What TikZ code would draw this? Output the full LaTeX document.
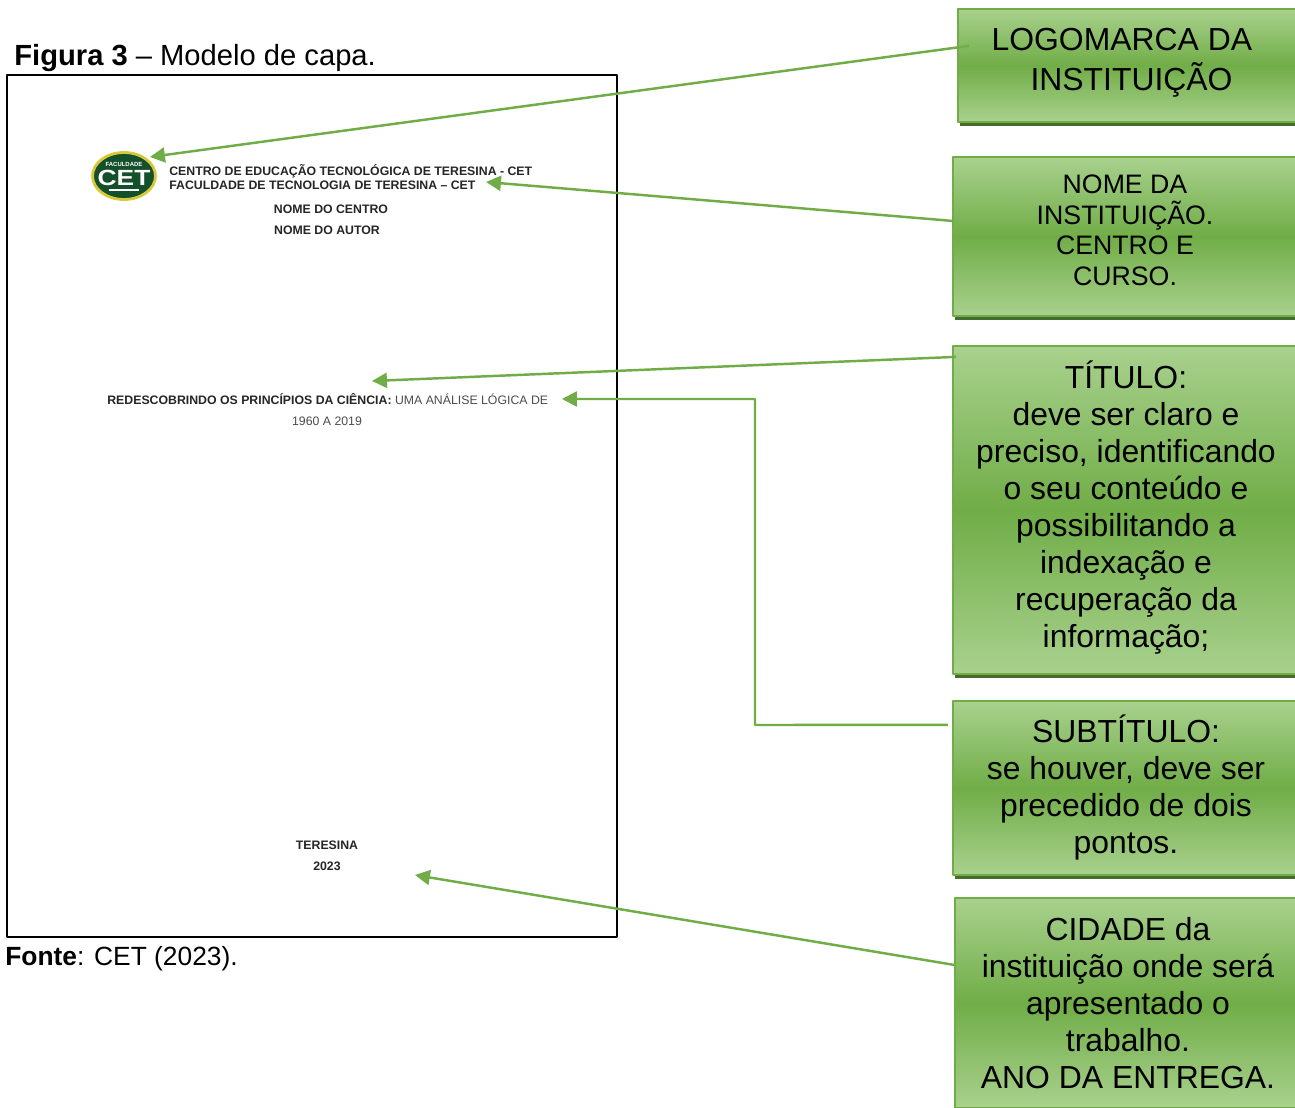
\documentclass[tikz,border=0pt]{standalone}
\usepackage{fontspec}
\setmainfont{Liberation Sans}
\usetikzlibrary{arrows.meta,shadows,shapes.geometric}
\definecolor{boxlight}{HTML}{A9D18E}
\definecolor{boxmid}{HTML}{70AD47}
\definecolor{boxdark}{HTML}{466D2D}
\definecolor{logogreen}{HTML}{14502A}
\definecolor{logorim}{HTML}{D8C83C}
\newcommand{\lift}[1]{\rule[-#1]{0pt}{#1}}
\tikzset{
	capabox/.style={draw=boxmid, line width=1.3pt, top color=boxlight, bottom color=boxlight, middle color=boxmid,
		align=center, text=black, inner sep=0pt, anchor=center,
		drop shadow={shadow xshift=1.2pt, shadow yshift=-2.2pt, fill=boxdark, opacity=1}},
	bigtext/.style={font=\fontsize{18.15}{21}\selectfont},
	midtext/.style={font=\fontsize{15.2}{17.4}\selectfont},
	pagetext/.style={font=\bfseries\fontsize{7}{8.4}\selectfont, text=black!85, inner sep=0pt},
	thintext/.style={font=\fontsize{7}{8.4}\selectfont, text=black!70, inner sep=0pt},
	captext/.style={inner sep=0pt, anchor=west},
	pointer/.style={->, draw=boxmid, line width=1.4pt}
}
\begin{document}
\begin{tikzpicture}[x=0.02cm, y=-0.02cm, >={Triangle[length=8.5pt,width=8.5pt]}, line join=round]
	\clip (0,0) rectangle (1295,1108);
	\fill[white] (0,0) rectangle (1295,1108);
	% the page
	\node[draw=black, line width=0.9pt, inner sep=0pt, minimum width=12.2cm, minimum height=17.24cm] (page) at (312,506) {};
	\node[captext, font=\fontsize{16.6}{18}\selectfont] (caption) at (14,58) {\textbf{Figura 3} – Modelo de capa.};
	\node[captext, font=\fontsize{15}{18}\selectfont] (source) at (5,959) {\textbf{Fonte}: CET (2023).};
	% logo
	\node[ellipse, draw=logorim, line width=1.6pt, fill=logogreen, minimum width=1.26cm, minimum height=0.94cm, inner sep=0pt] (logo) at (124,176) {};
	\node[font=\bfseries\fontsize{12.5}{12.5}\selectfont, text=white, inner sep=0pt, xscale=1.2] (logocet) at (124,178) {CET};
	\node[font=\bfseries\fontsize{3.4}{4}\selectfont, text=white, inner sep=0pt] (logotop) at (124,164) {FACULDADE};
	\draw[white, line width=0.6pt] ([shift={(-15,14)}]logo.center) -- ([shift={(15,14)}]logo.center);
	% text on the page
	\node[pagetext, anchor=west] (centro) at (169,171) {CENTRO DE EDUCAÇÃO TECNOLÓGICA DE TERESINA - CET};
	\node[pagetext, anchor=west] (faculdade) at (169,185.5) {FACULDADE DE TECNOLOGIA DE TERESINA – CET};
	\node[pagetext] (nomecentro) at (331,209) {NOME DO CENTRO};
	\node[pagetext] (nomeautor) at (327,230) {NOME DO AUTOR};
	\node[pagetext, anchor=west] (titulo) at (107,399) {REDESCOBRINDO OS PRINCÍPIOS DA CIÊNCIA: \textnormal{\color{black!70}UMA ANÁLISE LÓGICA DE}};
	\node[thintext] (anos) at (327,421) {1960 A 2019};
	\node[pagetext] (cidade) at (327,845) {TERESINA};
	\node[pagetext] (ano) at (327,866) {2023};
	% boxes on the right
	\node[capabox, bigtext, minimum width=6.94cm, minimum height=2.26cm] (logobox) at (1131.5,65.5)
		{LOGOMARCA DA\hspace*{11pt}\\[1.8pt]INSTITUIÇÃO\lift{7.2pt}};
	\node[capabox, midtext, minimum width=6.88cm, minimum height=3.18cm] (nomebox) at (1125,236.5)
		{NOME DA\\INSTITUIÇÃO.\\CENTRO E\\CURSO.\lift{7pt}};
	\node[capabox, bigtext, minimum width=6.92cm, minimum height=6.56cm] (titulobox) at (1126,510)
		{TÍTULO:\\deve ser claro e\\preciso, identificando\\o seu conteúdo e\\possibilitando a\\indexação e\\recuperação da\\informação;\lift{6.6pt}};
	\node[capabox, bigtext, minimum width=6.92cm, minimum height=3.48cm] (subbox) at (1126,788)
		{SUBTÍTULO:\\se houver, deve ser\\precedido de dois\\pontos.\lift{4.4pt}};
	\node[capabox, bigtext, minimum width=6.92cm, minimum height=4.2cm] (cidadebox) at (1128,1003)
		{CIDADE da\\instituição onde será\\apresentado o\\trabalho.\\ANO DA ENTREGA.};
	% ends of the pointers
	\path
	(150,157) coordinate (logotip)
	(486,182) coordinate (nometip)
	(372,381) coordinate (titulotip)
	(562,399) coordinate (subtip)
	(755,399) coordinate (subbendA)
	(755,725) coordinate (subbendB)
	(415,875) coordinate (cidadetip)
	;
	\draw[pointer] ([shift={(12,38)}]logobox.north west) -- (logotip);
	\draw[pointer] ([shift={(0,65)}]nomebox.north west) -- (nometip);
	\draw[pointer] ([shift={(4,12)}]titulobox.north west) -- (titulotip);
	\draw[pointer] ([shift={(-4,25)}]subbox.north west) -- (subbendB) -- (subbendA) -- (subtip);
	\draw[pointer] ([shift={(0,68)}]cidadebox.north west) -- (cidadetip);
\end{tikzpicture}
\end{document}
